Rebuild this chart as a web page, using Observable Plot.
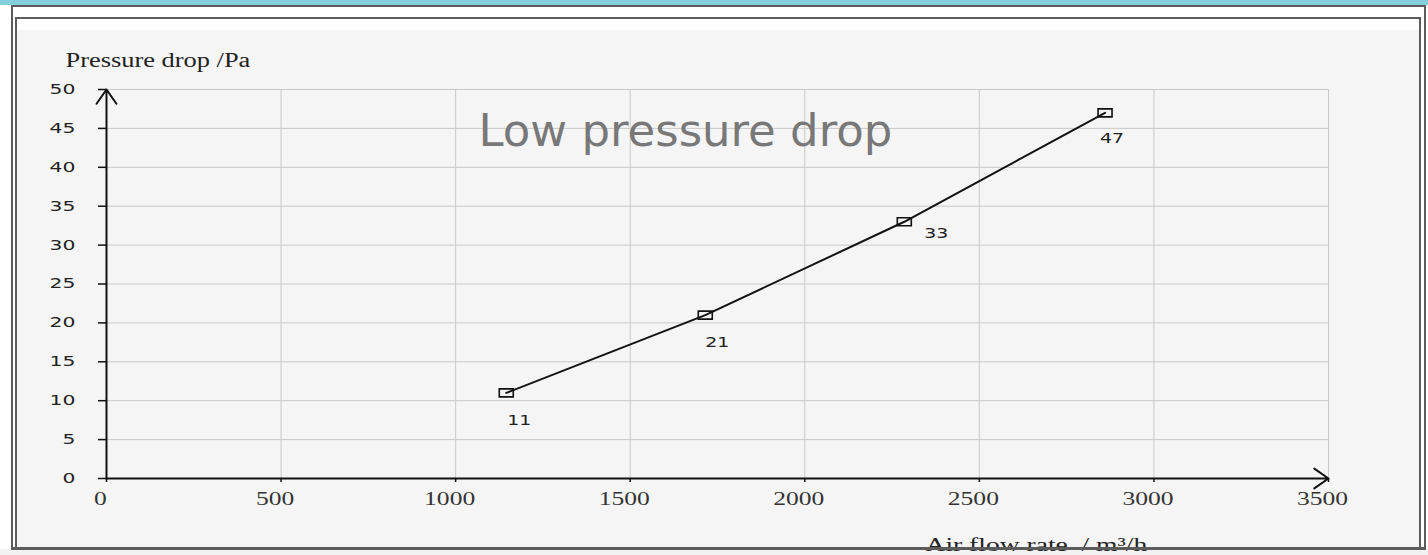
<!DOCTYPE html>
<html>
<head>
<meta charset="utf-8">
<script src="https://cdn.jsdelivr.net/npm/d3@7"></script>
<script src="https://cdn.jsdelivr.net/npm/@observablehq/plot@0.6"></script>
<style>
  html, body { margin: 0; padding: 0; background: #fff; width: 1428px; height: 555px; overflow: hidden; }
  .abs { position: absolute; box-sizing: border-box; }
  #band { left: 0; top: 0; width: 1428px; height: 5px; background: #83cfdb; z-index: 0; }
  #below { left: 0; top: 549px; width: 1428px; height: 6px; background: #f2f2f2; z-index: 0; }
  #scan { left: 17px; top: 30px; width: 1402px; height: 518px; background: #f5f5f5; z-index: 0; }
  #outer { left: 11px; top: 5px; width: 1415px; height: 545px; border: 2px solid #5c5c5c; border-bottom: 3px solid #5c5c5c; z-index: 2; }
  #inner { left: 15px; top: 17px; width: 1406px; height: 533px; border: 2px solid #5c5c5c; border-bottom: 3px solid #5c5c5c; z-index: 2; }
  #chart { position: absolute; left: 0; top: 0; z-index: 1; }
</style>
</head>
<body>
<div id="band" class="abs"></div>
<div id="scan" class="abs"></div>
<div id="below" class="abs"></div>
<div id="chart"></div>
<div id="outer" class="abs"></div>
<div id="inner" class="abs"></div>
<script>
// ---- data ----
const flowRate = [1145, 1715, 2285, 2860];          // m³/h
const pressureDrop = [11, 21, 33, 47];              // Pa
const xTicks = [0, 500, 1000, 1500, 2000, 2500, 3000, 3500];
const yTicks = [0, 5, 10, 15, 20, 25, 30, 35, 40, 45, 50];
const titleText = "Low pressure drop";
const yTitle = "Pressure drop /Pa";
const xTitle = "Air flow rate  / m³/h";

const points = flowRate.map((x, i) => ({x, y: pressureDrop[i]}));

// label placement (layout only)
const labelShift = [[13, 28], [12, 27], [32, 12], [7, 26]];

const rectSymbol = {
  draw(ctx) {
    ctx.moveTo(-7, -4); ctx.lineTo(7, -4); ctx.lineTo(7, 4); ctx.lineTo(-7, 4); ctx.closePath();
  }
};

const xMax = xTicks[xTicks.length - 1];
const yMax = yTicks[yTicks.length - 1];
const tag = name => () => name;

const plot = Plot.plot({
  width: 1428,
  height: 555,
  marginLeft: 106,
  marginRight: 100,
  marginTop: 89,
  marginBottom: 77,
  style: "background: transparent; overflow: visible;",
  x: {domain: [0, xMax], axis: null},
  y: {domain: [0, yMax], axis: null},
  marks: [
    Plot.gridX(xTicks, {stroke: "#c9c9c9", strokeOpacity: 1, strokeWidth: 1}),
    Plot.gridY(yTicks, {stroke: "#c9c9c9", strokeOpacity: 1, strokeWidth: 1}),
    // y axis ticks + labels
    Plot.axisY(yTicks, {tickSize: 8, tickPadding: 23, stroke: "#111", strokeWidth: 1.5,
      fill: "#222", fontFamily: "DejaVu Sans", fontSize: 14, label: null, tickFormat: d => String(d)}),
    // x axis ticks
    Plot.axisX(xTicks, {tickSize: 4, fill: "none", stroke: "#111", strokeWidth: 1.5, label: null}),
    // x axis labels
    Plot.axisX(xTicks, {tickSize: 0, tickPadding: 14, dx: -6, fill: "#333", fontFamily: "Liberation Serif",
      fontSize: 18, label: null, tickFormat: d => String(d)}),
    // axis lines with arrows
    Plot.arrow([null], {x1: 0, y1: 0, x2: 0, y2: yMax, stroke: "#111", strokeWidth: 2, headLength: 13, headAngle: 70}),
    Plot.arrow([null], {x1: 0, y1: 0, x2: xMax, y2: 0, stroke: "#111", strokeWidth: 2, headLength: 13, headAngle: 70}),
    // data
    Plot.line(points, {x: "x", y: "y", stroke: "#111", strokeWidth: 2}),
    Plot.dot(points, {x: "x", y: "y", symbol: rectSymbol, stroke: "#111", strokeWidth: 1.6, fill: "none"}),
    ...points.map((p, i) => Plot.text([p], {x: "x", y: "y", text: d => String(d.y),
      dx: labelShift[i][0], dy: labelShift[i][1], fill: "#222", fontFamily: "DejaVu Sans", fontSize: 14, ariaLabel: tag("dlab")})),
    // titles
    Plot.text([titleText], {frameAnchor: "top-left", text: d => d, dx: 372, dy: 56, lineAnchor: "bottom",
      textAnchor: "start", fill: "#787878", fontFamily: "DejaVu Sans", fontSize: 45}),
    Plot.text([yTitle], {frameAnchor: "top-left", text: d => d, dx: -41, dy: -23, lineAnchor: "bottom",
      textAnchor: "start", fill: "#222", fontFamily: "Liberation Serif", fontSize: 20, ariaLabel: tag("ytl")}),
    Plot.text([xTitle], {frameAnchor: "bottom-left", text: d => d, dx: 819, dy: 72, lineAnchor: "bottom",
      textAnchor: "start", fill: "#222", fontFamily: "Liberation Serif", fontSize: 19, ariaLabel: tag("xtl")})
  ]
});

document.getElementById("chart").appendChild(plot);

// the scanned chart is horizontally stretched: widen its glyphs
function stretchTexts(nodes, factor) {
  nodes.forEach(t => {
    const len = t.getComputedTextLength();
    if (len > 0) {
      t.setAttribute("textLength", (len * factor).toFixed(1));
      t.setAttribute("lengthAdjust", "spacingAndGlyphs");
    }
  });
}
stretchTexts(plot.querySelectorAll('g[aria-label="y-axis tick label"] text'), 1.45);
stretchTexts(plot.querySelectorAll('g[aria-label="x-axis tick label"] text'), 1.42);
stretchTexts(plot.querySelectorAll('text[aria-label="dlab"]'), 1.35);
stretchTexts(plot.querySelectorAll('text[aria-label="ytl"]'), 1.32);
stretchTexts(plot.querySelectorAll('text[aria-label="xtl"]'), 1.45);
</script>
</body>
</html>
